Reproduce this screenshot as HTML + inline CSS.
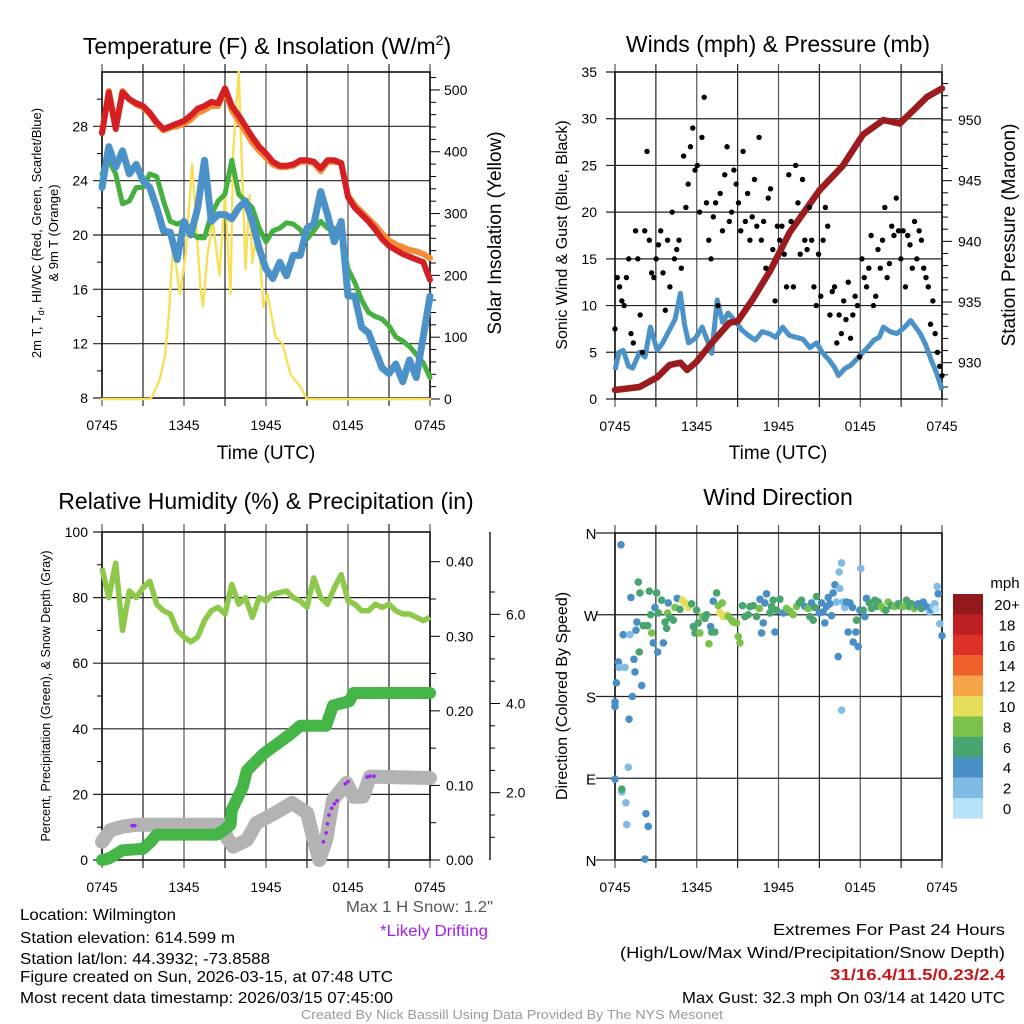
<!DOCTYPE html>
<html><head><meta charset="utf-8"><style>
html,body{margin:0;padding:0;background:#fff}
svg{display:block;font-family:"Liberation Sans",Arial,sans-serif}
</style></head><body>
<svg id="fig" width="1024" height="1024" viewBox="0 0 1024 1024" xmlns="http://www.w3.org/2000/svg">
<rect width="1024" height="1024" fill="#fff"/>
<g id="p1"></g>
<g id="p2"></g>
<g id="p3"></g>
<g id="p4"></g>
<g font-size="23" text-anchor="middle" fill="#000">
<text x="267" y="54">Temperature (F) &amp; Insolation (W/m<tspan font-size="14" dy="-9">2</tspan><tspan dy="9">)</tspan></text>
<text x="778" y="52">Winds (mph) &amp; Pressure (mb)</text>
<text x="266" y="509">Relative Humidity (%) &amp; Precipitation (in)</text>
<text x="778" y="505">Wind Direction</text>
</g>
<g fill="#000">
<text x="266" y="459" font-size="19" text-anchor="middle">Time (UTC)</text>
<text x="778" y="459" font-size="19" text-anchor="middle">Time (UTC)</text>
<text transform="translate(41,233) rotate(-90)" font-size="13" text-anchor="middle">2m T, T<tspan font-size="9" dy="3">d</tspan><tspan dy="-3">, HI/WC (Red, Green, Scarlet/Blue)</tspan></text>
<text transform="translate(58,233) rotate(-90)" font-size="13" text-anchor="middle">&amp; 9m T (Orange)</text>
<text transform="translate(501,233) rotate(-90)" font-size="19" text-anchor="middle">Solar Insolation (Yellow)</text>
<text transform="translate(567,235) rotate(-90)" font-size="16" text-anchor="middle">Sonic Wind &amp; Gust (Blue, Black)</text>
<text transform="translate(1015,235) rotate(-90)" font-size="19" text-anchor="middle">Station Pressure (Maroon)</text>
<text transform="translate(50,696) rotate(-90)" font-size="12.5" text-anchor="middle">Percent, Precipitation (Green), &amp; Snow Depth (Gray)</text>
<text transform="translate(567,696) rotate(-90)" font-size="16" text-anchor="middle">Direction (Colored By Speed)</text>
</g>
<g font-size="16" fill="#000">
<text x="20" y="920" textLength="156" lengthAdjust="spacingAndGlyphs">Location: Wilmington</text>
<text x="20" y="943" textLength="215" lengthAdjust="spacingAndGlyphs">Station elevation: 614.599 m</text>
<text x="20" y="964" textLength="250" lengthAdjust="spacingAndGlyphs">Station lat/lon: 44.3932; -73.8588</text>
<text x="20" y="982" textLength="373" lengthAdjust="spacingAndGlyphs">Figure created on Sun, 2026-03-15, at 07:48 UTC</text>
<text x="20" y="1003" textLength="373" lengthAdjust="spacingAndGlyphs">Most recent data timestamp: 2026/03/15 07:45:00</text>
<text x="493" y="912" text-anchor="end" fill="#555" textLength="147" lengthAdjust="spacingAndGlyphs">Max 1 H Snow: 1.2"</text>
<text x="488" y="936" text-anchor="end" fill="#a020f0" textLength="108" lengthAdjust="spacingAndGlyphs">*Likely Drifting</text>
<text x="1005" y="935" text-anchor="end" textLength="232" lengthAdjust="spacingAndGlyphs">Extremes For Past 24 Hours</text>
<text x="1005" y="958" text-anchor="end" textLength="385" lengthAdjust="spacingAndGlyphs">(High/Low/Max Wind/Precipitation/Snow Depth)</text>
<text x="1005" y="980" text-anchor="end" fill="#c8161d" font-weight="bold" textLength="175" lengthAdjust="spacingAndGlyphs">31/16.4/11.5/0.23/2.4</text>
<text x="1005" y="1003" text-anchor="end" textLength="323" lengthAdjust="spacingAndGlyphs">Max Gust: 32.3 mph On 03/14 at 1420 UTC</text>
<text x="512" y="1019" text-anchor="middle" fill="#999" font-size="13" textLength="422" lengthAdjust="spacingAndGlyphs">Created By Nick Bassill Using Data Provided By The NYS Mesonet</text>
</g>
</svg>
<script>
// ---------- DATA ----------
const hh = [0,0.5,1,1.5,2,2.5,3,3.5,4,4.5,5,5.5,6,6.5,7,7.5,8,8.5,9,9.5,10,10.5,11,11.5,12,12.5,13,13.5,14,14.5,15,15.5,16,16.5,17,17.5,18,18.5,19,19.5,20,20.5,21,21.5,22,22.5,23,23.5,24];
const xTickLabels = ["0745","1345","1945","0145","0745"];
const tempRed = [27.5,30.5,27.8,30.5,30,29.7,29.5,29,28.3,27.8,28,28.2,28.4,28.8,29.3,29.5,29.8,29.7,30.8,29.5,28.8,28,27.2,26.5,26,25.4,25.1,25.1,25.2,25.5,25.5,25.4,24.9,25.5,25.5,25.3,22.8,22,21.5,21,20.4,19.7,19.2,18.9,18.6,18.4,18.2,18,16.7];
const temp9mOrange = [27.5,30.6,28,30.6,30,29.6,29.4,28.9,28.2,27.7,27.9,28,28.2,28.5,29,29.2,29.5,29.5,30.6,29.2,28.4,27.6,26.8,26.2,25.7,25.2,25,25,25.1,25.4,25.4,25.3,24.7,25.4,25.4,25.3,22.9,22.2,21.7,21.2,20.7,20.1,19.6,19.3,19.1,18.9,18.8,18.6,18.3];
const dewGreen = [24.5,25.5,24.5,22.3,22.5,23.5,23.5,24.5,24.3,22.5,21,20.8,21,20.2,19.8,19.8,21.5,22.5,23,25.5,23,22.5,22,20.5,19.5,20.3,20.5,20.9,20.8,20.4,19.7,20.3,21,20.5,20.5,20,17.5,16.5,15.2,14.3,14,13.8,13.3,12.5,12.2,11.8,11.2,10.6,9.5];
const windChillBlue = [23.5,26.5,25,26.2,24.5,25.2,24,23.5,22,20.3,20.2,18.2,21,20,22,25.5,21,21.5,21.5,21.2,22,22.5,21,19,17.5,16.8,18,17,18.5,18.5,20.5,20.8,23.2,21.5,19.5,21,15.5,15.5,13.2,12.8,11.5,10.2,9.8,10.5,9.2,10.8,9.5,12.5,15.5];
const solarHours = [0,3.5,3.7,4.2,4.6,4.9,5.2,5.7,6.1,6.6,7.2,7.4,7.7,8.1,8.6,9.0,9.4,9.6,10,10.5,10.8,11,11.4,11.8,12.1,12.7,13.2,13.8,14.5,15,24];
const solarValues = [0,0,5,30,68,140,252,170,230,380,180,150,230,290,200,330,170,400,530,210,330,220,280,150,170,100,90,40,20,0,0];
const pressHours = [0,1.8,3.1,4,4.8,5.3,6,7,8.4,9,10.1,11.4,12.8,15,16.7,18.2,19.7,20.9,21.9,22.9,24];
const pressValues = [927.75,928,928.8,929.8,930,929.4,930.1,931.5,933.3,933.4,935.2,937.6,940.7,944.2,946.2,948.8,950,949.7,950.8,951.9,952.6];
const windHours = [0,0.3,0.6,1,1.3,1.8,2.2,2.6,3.1,3.5,4,4.4,4.8,5.1,5.4,5.9,6.4,6.8,7.1,7.5,7.9,8.3,8.8,9.3,9.8,10.3,10.8,11.3,11.8,12.3,12.8,13.3,13.8,14.3,14.8,15.2,15.7,16.1,16.4,16.9,17.3,17.7,18.2,18.6,19,19.4,19.7,20.2,20.7,21.2,21.7,22,22.4,22.8,23.2,23.6,24];
const windValues = [3.1,5,5.2,3.5,3.3,5,4.5,7.7,5.2,6,7.4,8.5,11.3,8,6,6.5,7.7,6.2,4.9,10.6,8.2,9.2,8.4,7.4,6.8,6.3,7.2,7,6.6,7.7,6.8,6.6,6.4,5.5,6,5,4.2,3.4,2.5,3.3,3.6,4.2,5,5.6,6.3,6.6,7.7,7.2,7,7.6,8.4,7.8,7,5.8,4.2,2.8,1];
const gustValues = [7.5,13,12,10.5,10,13, 15,7,6,18,15,9, 5,18,26.5,17,13.5,13, 15,16.5,18,13.5,9.5,17, 12,20,15,16,17,14, 26,20.5,23,27,29,24.5, 25,20,28,32.3,21,17, 15,19.5,21,10,22,18, 24,27,19,20,24.5,23, 21,18,26.5,19,22,17, 19.5,23.5,18.5,28,17,19, 14,21.5,22.5,16,10.5,18.5, 17,18.5,15.5,12,24,19, 12,25,21,15.5,23.5,17, 16,20.5,17,12,10,15.5, 11,17,20.5,18.5,9,11.5, 12,6,9,7,10.5,8.5, 12.5,6.5,9,11,10,4.5, 15,13,12,14,17.5,10, 11,16,14,17,20.5,13, 14.5,18.5,17.5,21.5,18,15, 18,12,17.5,16.5,14,19, 15,18,17,14,13,12, 8,10.5,7,5,3.5,2.5];
const rhValues = [89,80,90.5,70,82,80,83,85,78,76,75,70,68,66.5,68,73,76,77,75,84,78,80,74,80,79,81,81.5,82,80,79,77,86,80,78,83,87,79,78,76,76,78,77,78,76,75,75,74,73,74];
const precipHours = [0,0.5,1.5,3,3.6,4,8.4,8.9,9.4,9.5,10.3,10.6,11.8,13.8,14.5,16.4,16.9,18.1,18.4,24];
const precipValues = [0,0.002,0.013,0.015,0.025,0.034,0.034,0.04,0.047,0.067,0.098,0.12,0.142,0.169,0.18,0.18,0.207,0.213,0.224,0.224];
const snowHours = [0,0.6,1.5,2.5,8.9,9.1,9.6,10.6,11.3,12.7,13.9,15,15.5,15.9,16.4,16.9,17.9,18.4,19.1,19.6,24];
const snowValues = [0.9,1.16,1.24,1.28,1.28,1.01,0.79,0.94,1.32,1.55,1.77,1.55,0.94,0.49,0.94,1.84,2.22,1.91,1.91,2.36,2.33];
const driftHours = [2.2,2.4,16.2,16.4,16.5,16.6,16.8,17.0,17.2,17.8,18.0,19.4,19.6,19.9];
const driftValues = [1.26,1.26,0.9,1.1,1.3,1.5,1.65,1.75,1.82,2.2,2.25,2.35,2.37,2.37];
const dirHours = [0.44,0,0,0,0.1,0.25,0.3,0.5,0.5,0.6,0.73,0.8,0.86,0.98,1.03,1.1,1.17,1.27,1.39,1.47,1.54,1.61,1.71,1.78,1.83,1.96,2.08,2.2,2.27,2.4,2.44,2.52,2.62,2.69,2.81,2.93,3.06,3.13,3.18,3.42,3.55,3.67,3.79,3.86,3.91,4.03,4.28,4.4,4.57,4.77,4.96,5.13,5.38,5.62,5.75,5.87,5.99,6.11,6.23,6.43,6.6,6.72,6.89,7.02,7.09,7.21,7.33,7.46,7.58,7.7,7.87,7.95,8.19,8.31,8.56,8.68,8.92,9.05,9.17,9.36,9.54,9.78,9.9,10.15,10.39,10.59,10.64,10.76,10.88,11.0,11.12,11.37,11.49,11.61,11.74,11.86,12.1,12.35,12.59,12.84,13.08,13.33,13.52,13.69,13.94,14.18,14.3,14.43,14.55,14.67,14.79,14.99,15.16,15.28,15.4,15.53,15.65,15.77,15.89,16.01,16.14,16.26,16.38,16.45,16.5,16.63,16.75,16.63,16.87,16.99,17.11,17.24,17.43,17.48,17.68,17.73,17.85,17.97,18.04,18.22,18.34,18.46,18.66,18.83,19.07,19.19,19.32,19.56,19.73,19.88,20.05,20.29,20.54,20.78,20.9,21.15,21.39,21.59,21.76,21.96,22.13,22.25,22.49,22.62,22.86,23.1,23.23,23.35,23.47,23.55,23.64,23.72,23.84,24];
const dirDegrees = [347,89,169,174,195,218,212,75,78,248,212,63,39,102,155,248,289,180,221,207,253,262,306,229,294,192,258,1,51,258,37,296,270,250,239,278,294,229,272,286,239,262,255,272,283,267,264,278,288,276,286,283,278,282,257,250,275,261,250,268,266,270,238,257,251,285,251,294,280,272,283,268,270,268,264,262,261,246,239,280,268,270,279,280,268,277,287,250,261,283,293,272,279,286,251,275,287,272,277,274,270,279,283,286,279,277,268,283,264,278,290,272,283,273,261,279,289,282,269,294,303,284,224,317,299,327,284,165,278,284,251,283,278,240,251,264,235,275,321,275,268,288,283,277,286,279,284,279,276,275,284,280,279,282,280,279,286,279,282,277,280,282,277,284,279,273,276,279,282,276,301,293,260,247,298];
const dirSpeeds = [5,5,5,5,5,5,3,3,7,5,3,3,3,3,5,3,5,5,5,5,5,5,7,7,7,5,7,5,5,7,5,7,7,9,5,5,7,5,7,7,5,7,7,9,5,7,7,9,5,7,11,11,11,7,7,7,7,7,9,9,7,7,9,5,7,5,7,7,9,11,9,11,11,9,9,9,9,9,9,7,7,7,7,7,7,9,5,5,5,5,5,7,7,7,5,7,7,5,9,9,9,9,7,7,5,9,7,5,7,7,7,5,5,5,5,5,5,5,5,5,5,3,5,3,3,3,3,3,3,5,5,5,5,5,5,7,5,5,3,7,5,5,7,7,7,7,7,9,9,7,9,7,9,7,7,9,7,7,7,9,7,5,7,5,5,3,5,3,3,1,3,5,3,5,3,5];
const legendLabels = ["20+","18","16","14","12","10","8","6","4","2","0"];
const speedColors = ["#b5e2f6","#7fbbe5","#4a8ec6","#48a56f","#7bc24c","#e5de5a","#f4a346","#ef612a","#dd3127","#bd1e24","#921a1c"];

// ---------- HELPERS ----------
const NS="http://www.w3.org/2000/svg";
function mk(parent,tag,attrs){const e=document.createElementNS(NS,tag);for(const k in attrs)e.setAttribute(k,attrs[k]);parent.appendChild(e);return e;}
function txt(parent,x,y,s,size,anchor){const e=mk(parent,"text",{x:x,y:y,"font-size":size,"text-anchor":anchor||"middle"});e.textContent=s;return e;}
function lin(d0,d1,r0,r1){return v=>r0+(v-d0)/(d1-d0)*(r1-r0);}
function pathD(xs,ys,fx,fy){return xs.map((v,i)=>(i?"L":"M")+fx(v).toFixed(1)+","+fy(ys[i]).toFixed(1)).join("");}

function frame(g,L,T,R,B,name){
  for(let i=0;i<=8;i++){const x=L+(R-L)*i/8;
    const v=mk(g,"line",{x1:x,y1:T-8,x2:x,y2:B+8,stroke:i%2?"#222":"#555","stroke-width":1.2});
    
    }
  const f=mk(g,"rect",{x:L,y:T,width:R-L,height:B-T,fill:"none",stroke:"#000","stroke-width":1.5});
  
  
  for(let i=0;i<xTickLabels.length;i++){const x=L+(R-L)*i/4;
    const t=txt(g,x,B+32,xTickLabels[i],14);
    
    }
}
function hgrid(g,L,R,y,name){const h=mk(g,"line",{x1:L-9,y1:y,x2:R,y2:y,stroke:"#222","stroke-width":1.2});
  
  }

// ---------- PANEL 1 ----------
(function(){
  const g=document.getElementById("p1");const L=102,R=430,T=72,B=398;
  const fx=lin(0,24,L,R), fy=lin(8,32,B,T), fs=lin(0,529,399,T);
  frame(g,L,T,R,B,"p1");
  [8,12,16,20,24,28].forEach(v=>{hgrid(g,L,R,fy(v),"p1");
    const t=txt(g,L-14,fy(v)+5,String(v),14,"end");
    
    });
  for(let v=10;v<32;v+=4){mk(g,"line",{x1:L-5,y1:fy(v),x2:L,y2:fy(v),stroke:"#000"});}
  for(let v=0;v<=520;v+=20){const big=v%100===0;mk(g,"line",{x1:R,y1:fs(v),x2:R+(big?10:6),y2:fs(v),stroke:"#000"});
    if(big){const t=txt(g,R+14,fs(v)+5,String(v),14,"start");
      
      }}
  const s=[["solar-line",solarHours,solarValues,fs,"#f7df5a",2.4],["temp-9m-line",hh,temp9mOrange,fy,"#f58b35",6],["temp-2m-line",hh,tempRed,fy,"#d42025",6],["dewpoint-line",hh,dewGreen,fy,"#45b03f",5],["wind-chill-line",hh,windChillBlue,fy,"#4b92c8",7]];
  s.forEach(a=>{const p=mk(g,"path",{d:pathD(a[1],a[2],fx,a[3]),fill:"none",stroke:a[4],"stroke-width":a[5],"stroke-linejoin":"round","stroke-linecap":"round"});
    
    });
})();

// ---------- PANEL 2 ----------
(function(){
  const g=document.getElementById("p2");const L=615,R=942,T=72,B=399;
  const fx=lin(0,24,L,R), fy=lin(0,35,B,T), fp=lin(930,950,362.7,120);
  frame(g,L,T,R,B,"p2");
  for(let v=0;v<=35;v+=5){hgrid(g,L,R,fy(v),"p2");
    const t=txt(g,L-18,fy(v)+5,String(v),14,"end");
    
    }
  for(let v=927;v<=953;v++){const big=v%5===0;mk(g,"line",{x1:R,y1:fp(v),x2:R+(big?10:6),y2:fp(v),stroke:"#000"});
    if(big){const t=txt(g,R+16,fp(v)+5,String(v),14,"start");
      
      }}
  const w=mk(g,"path",{d:pathD(windHours,windValues,fx,fy),fill:"none",stroke:"#4b92c8","stroke-width":5,"stroke-linejoin":"round"});
  
  
  const pr=mk(g,"path",{d:pathD(pressHours,pressValues,fx,fp),fill:"none",stroke:"#9b1b1e","stroke-width":6.5,"stroke-linejoin":"round","stroke-linecap":"round"});
  
  
  gustValues.forEach((v,i)=>{const c=mk(g,"circle",{cx:fx(i*24/(gustValues.length-1)),cy:fy(v),r:2.7,fill:"#000"});
    
    });
})();

// ---------- PANEL 3 ----------
(function(){
  const g=document.getElementById("p3");const L=102,R=430,T=532,B=860;
  const fx=lin(0,24,L,R), fy=lin(0,100,B,T), fpr=lin(0,0.4,B,561.7), fsn=lin(2,6,792.7,614.3);
  frame(g,L,T,R,B,"p3");
  for(let v=0;v<=100;v+=20){hgrid(g,L,R,fy(v),"p3");
    const t=txt(g,L-14,fy(v)+5,String(v),14,"end");
    
    }
  for(let v=10;v<100;v+=20){mk(g,"line",{x1:L-5,y1:fy(v),x2:L,y2:fy(v),stroke:"#000"});}
  for(let k=0;k<=8;k++){const v=k*0.05,big=k%2===0,y=fpr(v);mk(g,"line",{x1:R,y1:y,x2:R+(big?10:6),y2:y,stroke:"#000"});
    if(big){const t=txt(g,R+16,y+5,v.toFixed(2),14,"start");
      
      }}
  const ax=mk(g,"line",{x1:490,y1:T,x2:490,y2:B,stroke:"#000","stroke-width":1.3});
  
  
  for(let v=1;v<=6.9;v+=0.5){const big=Math.abs(v-Math.round(v/2)*2)<0.01;mk(g,"line",{x1:490,y1:fsn(v),x2:490+(big?10:5),y2:fsn(v),stroke:"#000"});
    if(big){const t=txt(g,506,fsn(v)+5,v.toFixed(1),14,"start");
      
      }}
  const rh=mk(g,"path",{d:pathD(hh,rhValues,fx,fy),fill:"none",stroke:"#8dc84b","stroke-width":5.5,"stroke-linejoin":"round"});
  
  
  const sn=mk(g,"path",{d:pathD(snowHours,snowValues,fx,fsn),fill:"none",stroke:"#b3b3b3","stroke-width":14,"stroke-linejoin":"round","stroke-linecap":"round"});
  
  
  const pc=mk(g,"path",{d:pathD(precipHours,precipValues,fx,fpr),fill:"none",stroke:"#46b547","stroke-width":12,"stroke-linejoin":"round","stroke-linecap":"round"});
  
  
  driftHours.forEach((h,i)=>{const c=mk(g,"circle",{cx:fx(h),cy:fsn(driftValues[i]),r:1.8,fill:"#a020f0"});
    
    });
})();

// ---------- PANEL 4 ----------
(function(){
  const g=document.getElementById("p4");const L=615,R=942,T=533,B=860;
  const fx=lin(0,24,L,R), fy=lin(0,360,B,T);
  frame(g,L,T,R,B,"p4");
  ["N","E","S","W","N"].forEach((s,i)=>{const y=fy(i*90);hgrid(g,L-10,R,y,"p4");
    const t=txt(g,591,y+6,s,15,"middle");
    
    });
  dirHours.forEach((h,i)=>{const sp=dirSpeeds[i]===undefined?5:dirSpeeds[i];const k=Math.min(10,Math.floor(sp/2));
    const c=mk(g,"circle",{cx:fx(h),cy:fy(dirDegrees[i]===undefined?270:dirDegrees[i]),r:3.8,fill:speedColors[k]});
    
    });
  const lg=mk(g,"g",{});
  
  
  const lt=txt(lg,1005,588,"mph",15,"middle");
  
  
  legendLabels.forEach((s,i)=>{const y=594+i*20.4;
    const r=mk(lg,"rect",{x:953,y:y,width:30,height:20.6,fill:speedColors[10-i]});
    
    
    const t=txt(lg,1007,y+16,s,15,"middle");
    
    });
})();
</script>
</body></html>
